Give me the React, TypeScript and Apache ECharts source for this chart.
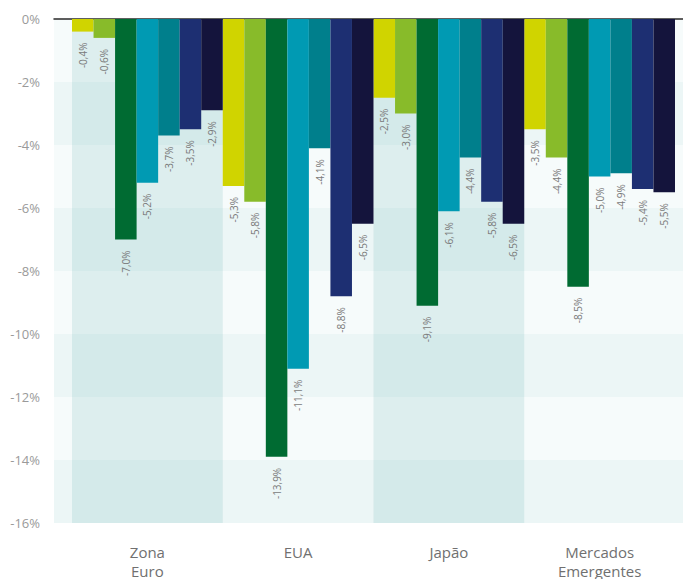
import React, { useEffect, useRef } from "react";
import * as echarts from "echarts";

// Regions on the category axis
const categories = ["Zona\nEuro", "EUA", "Japão", "Mercados\nEmergentes"];

// Y-axis range (percent)
const yMin = -16;
const yMax = 0;
const yStep = 2;

// One array per series, one value per region (%)
const serie1 = [-0.4, -5.3, -2.5, -3.5];
const serie2 = [-0.6, -5.8, -3.0, -4.4];
const serie3 = [-7.0, -13.9, -9.1, -8.5];
const serie4 = [-5.2, -11.1, -6.1, -5.0];
const serie5 = [-3.7, -4.1, -4.4, -4.9];
const serie6 = [-3.5, -8.8, -5.8, -5.4];
const serie7 = [-2.9, -6.5, -6.5, -5.5];

const seriesNames = ["S1", "S2", "S3", "S4", "S5", "S6", "S7"];
const seriesData = [serie1, serie2, serie3, serie4, serie5, serie6, serie7];
const seriesColors = [
  "#d0d400",
  "#88bb2a",
  "#006b32",
  "#009ab3",
  "#007f8c",
  "#1d2f72",
  "#14143c",
];

const fmt = (v: number) => v.toFixed(1).replace(".", ",") + "%";

export default function App() {
  const ref = useRef<HTMLDivElement>(null);

  useEffect(() => {
    if (!ref.current) return;
    const chart = echarts.init(ref.current, undefined, { renderer: "svg" });

    const font = "'Open Sans', 'Noto Sans', sans-serif";

    chart.setOption({
      animation: false,
      backgroundColor: "#ffffff",
      grid: [
        { left: 54, right: 0, top: 19, bottom: 56, outerBoundsMode: "none" },
        { left: 72, right: 8, top: 19, bottom: 56, outerBoundsMode: "none" },
      ],
      xAxis: [
        {
          type: "category",
          gridIndex: 0,
          data: ["a"],
          position: "top",
          axisLine: { show: true, lineStyle: { color: "#2a2a2a", width: 1.5 } },
          axisTick: { show: false },
          axisLabel: { show: false },
          splitLine: { show: false },
        },
        {
          type: "category",
          gridIndex: 1,
          data: categories,
          position: "bottom",
          axisLine: { show: false },
          axisTick: { show: false },
          axisLabel: {
            color: "#707070",
            fontFamily: font,
            fontSize: 15,
            lineHeight: 19,
            margin: 19,
          },
          splitLine: { show: false },
          splitArea: {
            show: true,
            areaStyle: { color: ["rgba(0,128,128,0.1)", "rgba(0,0,0,0)"] },
          },
        },
      ],
      yAxis: [
        {
          type: "value",
          gridIndex: 0,
          min: yMin,
          max: yMax,
          interval: yStep,
          axisLine: { show: false },
          axisTick: { show: false },
          splitLine: { show: false },
          axisLabel: {
            color: "#9a9a9a",
            fontFamily: font,
            fontSize: 13,
            margin: 14,
            formatter: (v: number) => `${v}%`,
          },
          splitArea: {
            show: true,
            areaStyle: {
              color: ["rgba(0,128,128,0.075)", "rgba(0,128,128,0.035)"],
            },
          },
        },
        {
          type: "value",
          gridIndex: 1,
          min: yMin,
          max: yMax,
          interval: yStep,
          show: false,
          splitLine: { show: false },
        },
      ],
      series: seriesData.map((data, i) => ({
        name: seriesNames[i],
        type: "bar",
        xAxisIndex: 1,
        yAxisIndex: 1,
        data,
        barGap: "0%",
        barCategoryGap: "0%",
        itemStyle: { color: seriesColors[i] },
        label: {
          show: true,
          position: "bottom",
          rotate: 90,
          align: "right",
          verticalAlign: "middle",
          distance: 11,
          color: "#7a7a7a",
          fontFamily: font,
          fontSize: 10,
          formatter: (p: any) => fmt(p.value),
        },
      })),
    });

    return () => chart.dispose();
  }, []);

  return (
    <div
      ref={ref}
      style={{ position: "absolute", left: 0, top: 0, width: 683, height: 579 }}
    />
  );
}
